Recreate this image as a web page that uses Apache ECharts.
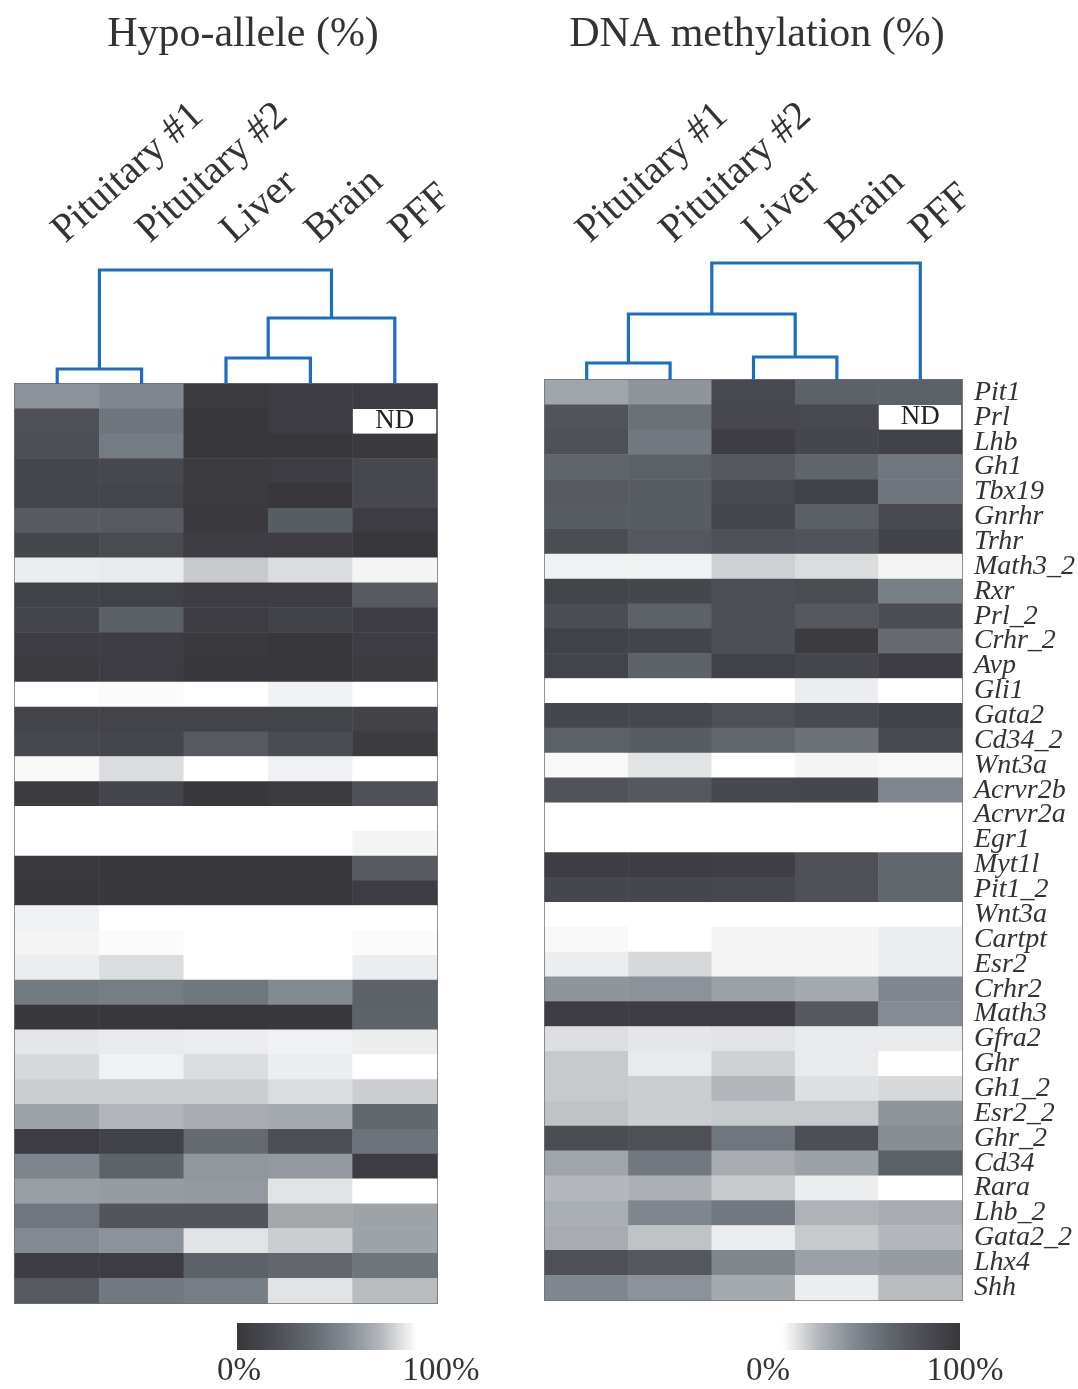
<!DOCTYPE html>
<html>
<head>
<meta charset="utf-8">
<script src="https://cdn.jsdelivr.net/npm/echarts@6/dist/echarts.min.js"></script>
<style>html,body{margin:0;padding:0;background:#fff}#c{width:1078px;height:1389px}</style>
</head>
<body>
<div id="c"></div>
<script>
// ---- data ----
const columns = ['Pituitary #1', 'Pituitary #2', 'Liver', 'Brain', 'PFF'];
const genes = ['Pit1','Prl','Lhb','Gh1','Tbx19','Gnrhr','Trhr','Math3_2','Rxr','Prl_2','Crhr_2','Avp','Gli1','Gata2','Cd34_2','Wnt3a','Acrvr2b','Acrvr2a','Egr1','Myt1l','Pit1_2','Wnt3a','Cartpt','Esr2','Crhr2','Math3','Gfra2','Ghr','Gh1_2','Esr2_2','Ghr_2','Cd34','Rara','Lhb_2','Gata2_2','Lhx4','Shh'];

// Hypo-allele (%) per column (null = ND)
const hypoPit1  = [64,23,22,15,14,31,14,95,11,13,5,4,100,12,16,98,4,100,100,2,1,96,97,95,51,1,93,89,86,71,5,57,69,49,60,6,30];
const hypoPit2  = [59,48,52,16,14,30,19,94,10,34,6,5,99,12,14,90,13,100,100,1,1,100,99,90,53,0,94,96,86,79,11,37,68,27,64,5,50];
const hypoLiver = [3,0,0,4,3,2,5,85,5,5,2,0,100,12,30,100,1,100,100,1,1,100,100,100,49,0,95,90,86,75,42,66,67,26,92,36,53];
const hypoBrain = [5,5,0,5,0,32,6,90,6,10,0,1,96,12,20,96,4,100,100,1,0,100,100,100,60,1,96,95,90,74,22,67,92,73,86,40,92];
const hypoPFF   = [5,null,2,16,16,5,0,97,31,6,6,4,100,11,4,100,24,100,97,31,5,100,99,95,36,37,95,100,86,40,47,5,100,71,71,48,81];

// DNA methylation (%) per column (null = ND)
const methPit1  = [28,74,76,62,70,68,79,4,87,79,90,88,0,85,65,2,75,0,0,94,85,0,2,5,35,94,9,15,15,17,79,28,20,24,25,77,41];
const methPit2  = [35,54,50,65,68,68,72,4,85,64,87,64,0,84,68,8,71,0,0,94,85,0,0,11,36,94,7,6,14,14,77,50,23,42,17,72,36];
const methLiver = [83,84,94,71,83,85,76,13,78,78,78,90,0,77,60,0,84,0,0,92,84,0,3,3,30,94,8,13,21,15,51,25,15,50,5,42,26];
const methBrain = [64,83,85,62,90,66,75,10,79,71,96,86,5,82,54,3,85,0,0,77,77,0,3,3,26,71,6,6,9,15,78,30,5,22,15,30,5];
const methPFF   = [65,null,90,51,52,82,89,3,46,79,58,94,0,89,83,2,42,0,0,61,61,0,5,5,42,39,6,0,11,35,38,65,0,25,20,32,19];

// dendrogram merges: [childA, childB, height]; leaves 0..4, new clusters numbered 5,6,...
const hypoMerges = [[0,1,15],[2,3,26],[6,4,66],[5,7,114]];
const methMerges = [[0,1,17],[2,3,23],[5,6,66],[7,4,117]];

const legendTicks = ['0%', '100%'];

// ---- styles ----
const hypoColors = ['#38373c','#4a4c52','#62676e','#828990','#b4b8bc','#ffffff'];
const methColors = hypoColors.slice().reverse();
const SERIF = '"Liberation Serif", "DejaVu Serif", serif';
const TXT = '#333336';
const BLUE = '#1c6ec1';

function toCells(cols) {
  const out = [];
  cols.forEach((col, x) => col.forEach((v, y) => {
    if (v !== null) out.push([x, y, v]);
  }));
  return out;
}
function ndCells(cols) {
  const out = [];
  cols.forEach((col, x) => col.forEach((v, y) => { if (v === null) out.push([x, y]); }));
  return out;
}
function dendroLinks(merges, n) {
  const xs = [], hs = [];
  for (let i = 0; i < n; i++) { xs.push(i); hs.push(0); }
  const links = [];
  merges.forEach(([a, b, h]) => {
    links.push({ coords: [[xs[a], hs[a]], [xs[a], h], [xs[b], h], [xs[b], hs[b]]] });
    xs.push((xs[a] + xs[b]) / 2); hs.push(h);
  });
  return links;
}
function gradient(colors) {
  return { type: 'linear', x: 0, y: 0, x2: 1, y2: 0,
    colorStops: colors.map((c, i) => ({ offset: i / (colors.length - 1), color: c })) };
}

const hypoCols = [hypoPit1, hypoPit2, hypoLiver, hypoBrain, hypoPFF];
const methCols = [methPit1, methPit2, methLiver, methBrain, methPFF];

const L = { left: 15, top: 384, width: 422, height: 919 };
const R = { left: 545, top: 380, width: 417, height: 920 };

const colLabelAxis = (grid, margin) => ({
  type: 'category', gridIndex: grid, data: columns, position: 'top',
  axisLine: { show: false }, axisTick: { show: false },
  axisLabel: { rotate: 42, margin: margin, interval: 0, fontSize: 40, fontFamily: SERIF, color: TXT }
});

const chart = echarts.init(document.getElementById('c'), null, { renderer: 'canvas' });
chart.setOption({
  backgroundColor: '#ffffff',
  animation: false,
  title: [
    { text: 'Hypo-allele (%)', left: 238, top: 9, textAlign: 'center',
      textStyle: { fontFamily: SERIF, fontSize: 42, fontWeight: 'normal', color: TXT } },
    { text: 'DNA methylation (%)', left: 752, top: 9, textAlign: 'center',
      textStyle: { fontFamily: SERIF, fontSize: 42, fontWeight: 'normal', color: TXT } }
  ],
  grid: [
    Object.assign({ show: true, borderColor: '#6f6f72', borderWidth: 2, backgroundColor: 'transparent' }, L),
    Object.assign({ show: true, borderColor: '#6f6f72', borderWidth: 2, backgroundColor: 'transparent' }, R),
    { left: L.left, top: L.top - 120, width: L.width, height: 120 },
    { left: R.left, top: R.top - 120, width: R.width, height: 120 },
    { left: L.left + 1, top: L.top, width: L.width, height: 10 },
    { left: R.left - 4, top: R.top, width: R.width, height: 10 }
  ],
  xAxis: [
    { type: 'category', gridIndex: 0, data: columns, show: false },
    { type: 'category', gridIndex: 1, data: columns, show: false },
    { type: 'value', gridIndex: 2, min: -0.5, max: 4.5, show: false },
    { type: 'value', gridIndex: 3, min: -0.5, max: 4.5, show: false },
    colLabelAxis(4, 148),
    colLabelAxis(5, 144)
  ],
  yAxis: [
    { type: 'category', gridIndex: 0, data: genes, inverse: true, show: false },
    { type: 'category', gridIndex: 1, data: genes, inverse: true, position: 'right',
      axisLine: { show: false }, axisTick: { show: false },
      axisLabel: { interval: 0, margin: 12, fontSize: 28, fontStyle: 'italic', fontFamily: SERIF, color: TXT } },
    { type: 'value', gridIndex: 2, min: 0, max: 120, show: false },
    { type: 'value', gridIndex: 3, min: 0, max: 120, show: false },
    { type: 'value', gridIndex: 4, show: false },
    { type: 'value', gridIndex: 5, show: false }
  ],
  visualMap: [
    { type: 'continuous', show: false, seriesIndex: 0, min: 0, max: 100, inRange: { color: hypoColors } },
    { type: 'continuous', show: false, seriesIndex: 1, min: 0, max: 100, inRange: { color: methColors } }
  ],
  series: [
    { type: 'heatmap', xAxisIndex: 0, yAxisIndex: 0, data: toCells(hypoCols), silent: true, itemStyle: { borderWidth: 0 } },
    { type: 'heatmap', xAxisIndex: 1, yAxisIndex: 1, data: toCells(methCols), silent: true, itemStyle: { borderWidth: 0 } },
    { type: 'scatter', xAxisIndex: 0, yAxisIndex: 0, data: ndCells(hypoCols), symbol: 'rect', symbolSize: [82, 24],
      silent: true, z: 5, itemStyle: { color: '#ffffff', opacity: 1 },
      label: { show: true, position: 'inside', formatter: 'ND', fontFamily: SERIF, fontSize: 27, color: '#222' } },
    { type: 'scatter', xAxisIndex: 1, yAxisIndex: 1, data: ndCells(methCols), symbol: 'rect', symbolSize: [81, 24],
      silent: true, z: 5, itemStyle: { color: '#ffffff', opacity: 1 },
      label: { show: true, position: 'inside', formatter: 'ND', fontFamily: SERIF, fontSize: 27, color: '#222' } },
    { type: 'lines', coordinateSystem: 'cartesian2d', xAxisIndex: 2, yAxisIndex: 2, polyline: true, silent: true,
      data: dendroLinks(hypoMerges, 5), lineStyle: { color: BLUE, width: 3.2, opacity: 1, join: 'miter' } },
    { type: 'lines', coordinateSystem: 'cartesian2d', xAxisIndex: 3, yAxisIndex: 3, polyline: true, silent: true,
      data: dendroLinks(methMerges, 5), lineStyle: { color: BLUE, width: 3.2, opacity: 1, join: 'miter' } }
  ],
  graphic: [
    { type: 'rect', shape: { x: 237, y: 1323, width: 180, height: 27 }, style: { fill: gradient(hypoColors) } },
    { type: 'text', x: 239, y: 1371, style: { text: legendTicks[0], font: '33px ' + SERIF, fill: TXT, textAlign: 'center', textVerticalAlign: 'middle' } },
    { type: 'text', x: 441, y: 1371, style: { text: legendTicks[1], font: '33px ' + SERIF, fill: TXT, textAlign: 'center', textVerticalAlign: 'middle' } },
    { type: 'rect', shape: { x: 782, y: 1323, width: 178, height: 27 }, style: { fill: gradient(methColors) } },
    { type: 'text', x: 768, y: 1371, style: { text: legendTicks[0], font: '33px ' + SERIF, fill: TXT, textAlign: 'center', textVerticalAlign: 'middle' } },
    { type: 'text', x: 965, y: 1371, style: { text: legendTicks[1], font: '33px ' + SERIF, fill: TXT, textAlign: 'center', textVerticalAlign: 'middle' } }
  ]
});
</script>
</body>
</html>
